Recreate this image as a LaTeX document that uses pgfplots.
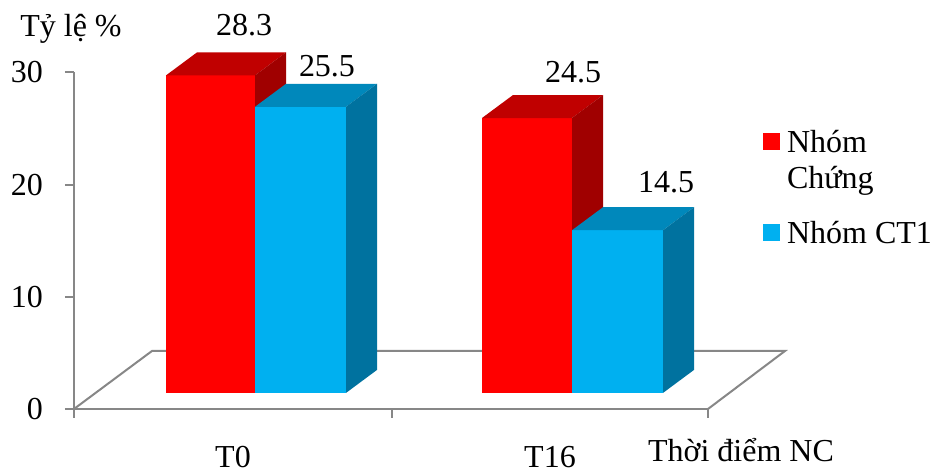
\documentclass[border=0pt]{standalone}
\usepackage{fontspec}
\setmainfont{Liberation Serif}
\usepackage{pgfplots}
\pgfplotsset{compat=1.18}

\definecolor{axgray}{HTML}{878787}
\definecolor{redF}{HTML}{FF0000}
\definecolor{redT}{HTML}{C00000}
\definecolor{redS}{HTML}{A00000}
\definecolor{bluF}{HTML}{00B0F0}
\definecolor{bluT}{HTML}{0088BB}
\definecolor{bluS}{HTML}{00729F}

% oblique 3-D geometry: x in horizontal units, y in percent
\newcommand{\bb}{1.43}   % height of the bar fronts' base above the floor edge
\newcommand{\dpx}{31}    % depth shift of a bar, horizontal
\newcommand{\dpy}{2.05}  % depth shift of a bar, vertical

% #1 left, #2 right, #3 value, #4 front, #5 top, #6 side colour
\newcommand{\barthreed}[6]{%
  \pgfmathsetmacro{\yt}{\bb+#3}%
  \pgfmathsetmacro{\ytd}{\yt+\dpy}%
  \pgfmathsetmacro{\ybd}{\bb+\dpy}%
  \pgfmathsetmacro{\xld}{#1+\dpx}%
  \pgfmathsetmacro{\xrd}{#2+\dpx}%
  \addplot[forget plot, fill=#4, draw=none] coordinates {(#1,\bb) (#2,\bb) (#2,\yt) (#1,\yt)};
  \addplot[forget plot, fill=#5, draw=none] coordinates {(#1,\yt) (#2,\yt) (\xrd,\ytd) (\xld,\ytd)};
  \addplot[forget plot, fill=#6, draw=none] coordinates {(#2,\bb) (\xrd,\ybd) (\xrd,\ytd) (#2,\yt)};
}

\begin{document}
\fontsize{16}{18}\selectfont
\begin{tikzpicture}[font=\fontsize{16}{18}\selectfont]
\begin{axis}[
  x=0.5pt, y=5.61pt,
  xmin=74, xmax=708, ymin=0, ymax=30,
  clip=false,
  axis x line*=bottom, axis y line*=left,
  axis line style={draw=axgray, line width=1pt, -},
  tick style={draw=axgray, line width=1pt},
  tick align=outside,
  major tick length=4.5pt,
  ytick={0,10,20,30},
  yticklabel style={xshift=-5.5pt},
  xtick={74,392,708}, xticklabels={,,},
  extra x ticks={233,550}, extra x tick labels={T0,T16},
  extra x tick style={major tick length=0pt, xticklabel style={yshift=-13pt}},
  /pgf/number format/assume math mode=true,
  tick label style={font=\fontsize{16}{18}\selectfont},
  legend style={draw=none, fill=none, inner sep=0pt, outer sep=0pt,
    at={(1.0868,0.8407)}, anchor=north west,
    cells={anchor=base west, inner sep=2pt},
    row sep=28pt, column sep=1.5pt,
    font=\fontsize{16}{18}\selectfont},
  legend image code/.code={\fill[#1] (0pt,1pt) rectangle (8.5pt,9.5pt);},
]
% floor outline
\addplot[forget plot, axgray, line width=1pt] coordinates
  {(74,0) (152,5.17) (785,5.17) (708,0)};

% bars: T0 then T16, each red (Nhóm Chứng) then blue (Nhóm CT1)
\barthreed{166}{255}{28.3}{redF}{redT}{redS}
\barthreed{255}{346}{25.5}{bluF}{bluT}{bluS}
\barthreed{482}{572}{24.5}{redF}{redT}{redS}
\barthreed{572}{663}{14.5}{bluF}{bluT}{bluS}

\addlegendimage{fill=redF, draw=none}
\addlegendentry{\vtop{\hbox{Nhóm}\hbox{Chứng}}}
\addlegendimage{fill=bluF, draw=none}
\addlegendentry{Nhóm CT1}

% value labels
\node[anchor=base] at (axis cs:244,33.33) {28.3};
\node[anchor=base] at (axis cs:327,29.59) {25.5};
\node[anchor=base] at (axis cs:573,29.06) {24.5};
\node[anchor=base] at (axis cs:666,19.25) {14.5};

% axis titles
\node[anchor=base] at (axis cs:71,33.16) {Tỷ lệ \%};
\node[anchor=base] at (axis cs:741,-4.72) {Thời điểm NC};

\coordinate (bbl) at (axis cs:0,-5.70);
\coordinate (btr) at (axis cs:934,36.45);
\end{axis}
\pgfresetboundingbox
\path (bbl) rectangle (btr);
\end{tikzpicture}
\end{document}
